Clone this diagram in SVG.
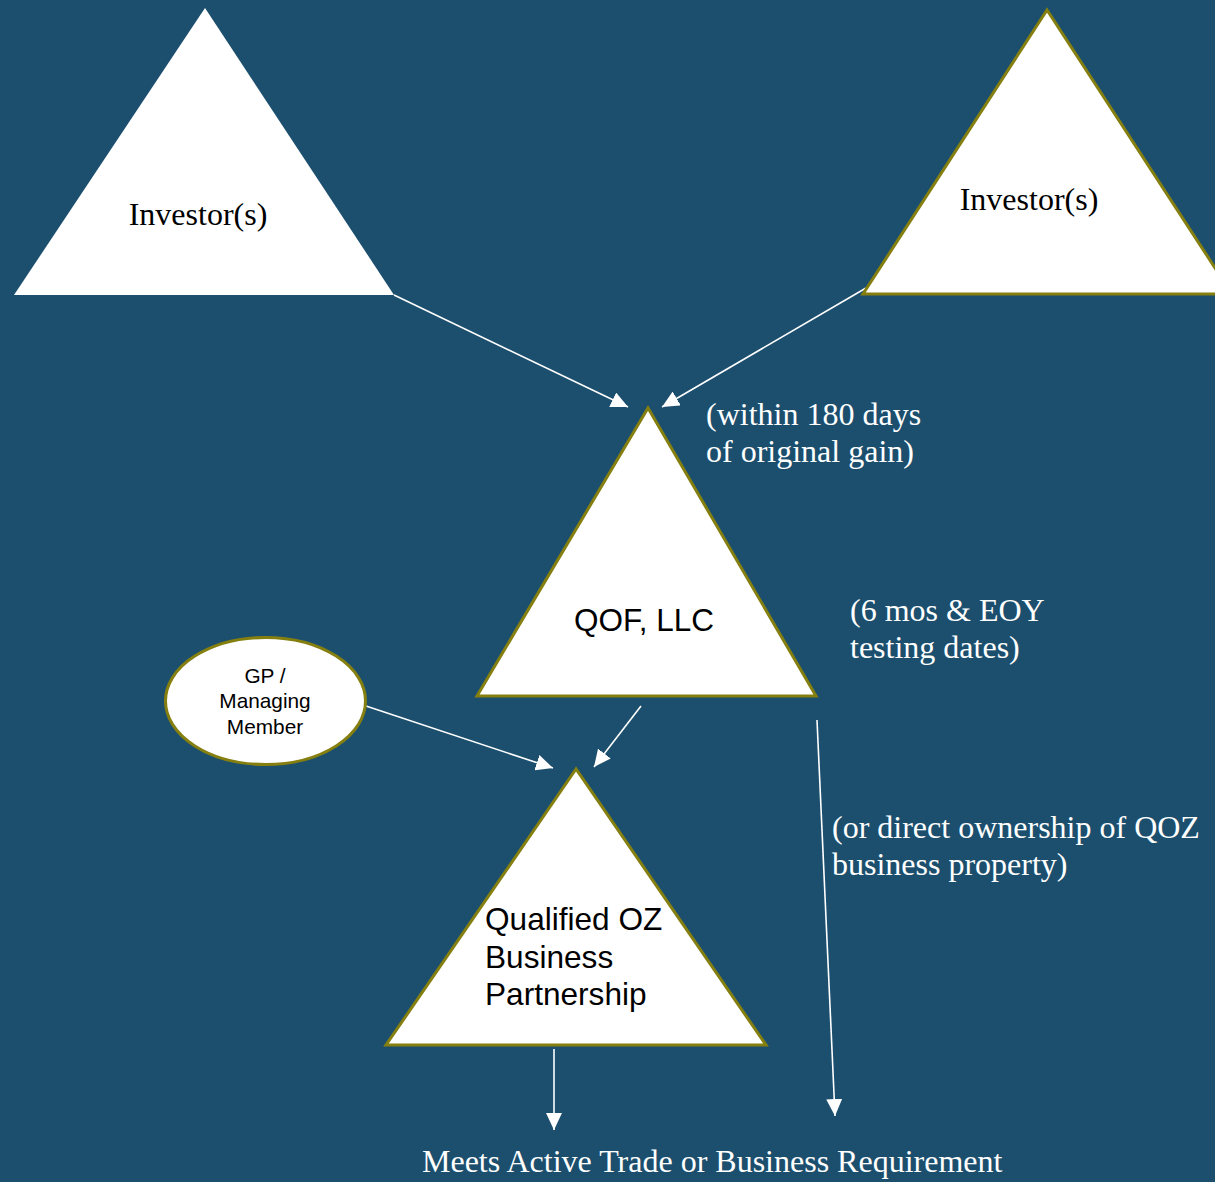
<svg xmlns="http://www.w3.org/2000/svg" width="1215" height="1182" viewBox="0 0 1215 1182">
<style>
.tri{fill:#ffffff;stroke:#857f0f;stroke-width:3;stroke-linejoin:miter}
.serif{font-family:"Liberation Serif","Times New Roman",serif;font-size:32px}
.sans{font-family:"Liberation Sans",Arial,sans-serif}
.dark{fill:#000000}
.light{fill:#ffffff}
.conn{stroke:#ffffff;stroke-width:1.6;fill:none;marker-end:url(#arr)}
</style>
<defs>
<marker id="arr" markerUnits="userSpaceOnUse" markerWidth="18" markerHeight="16" refX="17" refY="8" orient="auto">
<path d="M0,0 L17,8 L0,16 z" fill="#ffffff"/>
</marker>
</defs>
<rect x="0" y="0" width="1215" height="1182" fill="#1c4f6e"/>
<g id="connectors">
<line class="conn" x1="394" y1="295" x2="628" y2="407"/>
<line class="conn" x1="866" y1="288" x2="662" y2="407"/>
<line class="conn" x1="366" y1="706" x2="553" y2="768"/>
<line class="conn" x1="641" y1="706" x2="594" y2="767"/>
<line class="conn" x1="554" y1="1049" x2="554" y2="1130"/>
<line class="conn" x1="817" y1="720" x2="835" y2="1116"/>
</g>
<g id="investor-left">
<polygon points="205,8 14,295 394,295" fill="#ffffff"/>
<text class="serif dark" x="198" y="225" text-anchor="middle">Investor(s)</text>
</g>
<g id="investor-right">
<polygon class="tri" points="1047,10 863,294 1232,294"/>
<text class="serif dark" x="1029" y="210" text-anchor="middle">Investor(s)</text>
</g>
<g id="qof">
<polygon class="tri" points="648,408 477,696 816,696"/>
<text class="sans dark" x="644" y="631" font-size="31.5" text-anchor="middle">QOF, LLC</text>
</g>
<g id="gp">
<ellipse cx="265.5" cy="701" rx="100" ry="63.5" fill="#ffffff" stroke="#857f0f" stroke-width="3"/>
<text class="sans dark" font-size="20.8" text-anchor="middle"><tspan x="265" y="683">GP /</tspan><tspan x="265" y="708">Managing</tspan><tspan x="265" y="734">Member</tspan></text>
</g>
<g id="qozb">
<polygon class="tri" points="576,769 386,1045 766,1045"/>
<text class="sans dark" font-size="31.6"><tspan x="485" y="930">Qualified OZ</tspan><tspan x="485" y="968">Business</tspan><tspan x="485" y="1005">Partnership</tspan></text>
</g>
<g id="labels">
<text class="serif light"><tspan x="706" y="425">(within 180 days</tspan><tspan x="706" y="462">of original gain)</tspan></text>
<text class="serif light"><tspan x="850" y="621">(6 mos &amp; EOY</tspan><tspan x="850" y="658">testing dates)</tspan></text>
<text class="serif light"><tspan x="832" y="838">(or direct ownership of QOZ</tspan><tspan x="832" y="875">business property)</tspan></text>
<text class="serif light" x="422" y="1172">Meets Active Trade or Business Requirement</text>
</g>
</svg>
